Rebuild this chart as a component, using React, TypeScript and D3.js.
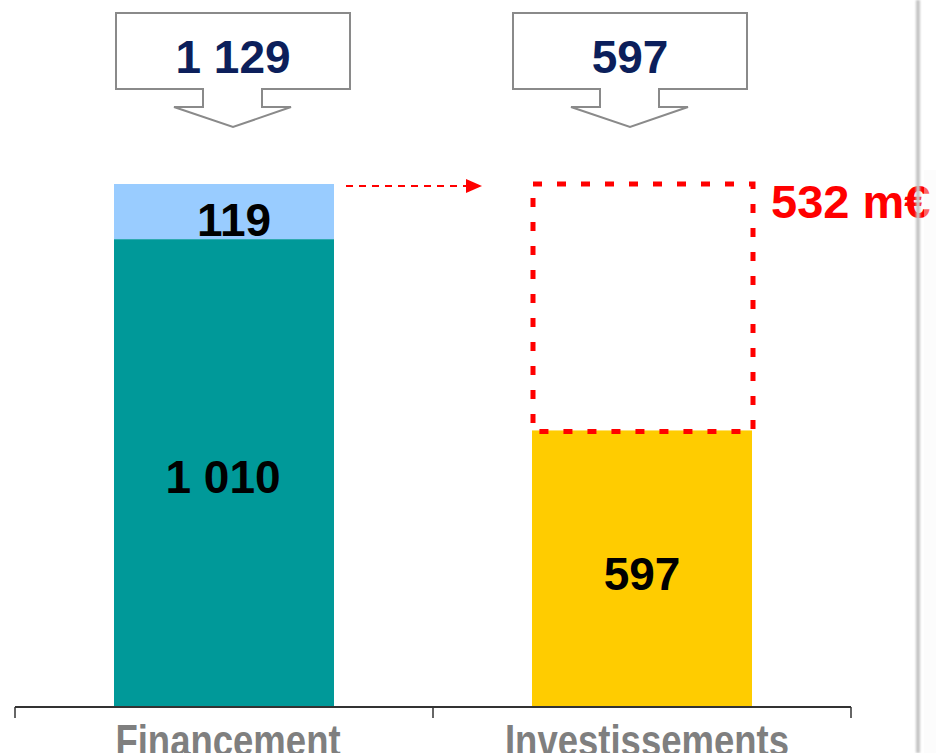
import React from "react";
import * as d3 from "d3";

const categories = ["Financement", "Investissements"];
const financementBase = 1010;
const financementExtra = 119;
const investissements = 597;
const totals = ["1 129", "597"];
const gapLabel = "532 m€";
const baseLabels = ["1 010", "597"];
const extraLabel = "119";

const W = 938;
const H = 753;

export default function App() {
  const x = d3
    .scaleBand<string>()
    .domain(categories)
    .range([15, 851])
    .paddingInner(198 / 418)
    .paddingOuter(99 / 418);
  const y = d3.scaleLinear().domain([0, financementBase + financementExtra]).range([707, 184]);
  const bw = x.bandwidth();
  const x0 = x(categories[0])!;
  const x1 = x(categories[1])!;
  const calloutOffsets = [9, -12];
  const numFont = "'Liberation Sans', Arial, Helvetica, sans-serif";

  const callout = (cx: number) =>
    [
      [cx - 117, 13],
      [cx + 117, 13],
      [cx + 117, 89],
      [cx + 29, 89],
      [cx + 29, 107],
      [cx + 58, 107],
      [cx, 127],
      [cx - 59, 107],
      [cx - 30, 107],
      [cx - 30, 89],
      [cx - 117, 89],
    ]
      .map((p, i) => (i ? "L" : "M") + p[0] + "," + p[1])
      .join("") + "Z";

  const ticks = [15, 15 + x.step(), 851];
  const arrowY = y(financementBase + financementExtra) + 2;

  return (
    <svg width={W} height={H} style={{ position: "absolute", left: 0, top: 0, display: "block" }}>
      <defs>
        <filter id="blur" x="-2" y="0" width="5" height="1">
          <feGaussianBlur stdDeviation="1.2" />
        </filter>
      </defs>
      <rect width={W} height={H} fill="#fff" />
      {/* Financement stacked bar */}
      <rect x={x0} y={y(financementBase)} width={bw} height={y(0) - y(financementBase)} fill="#009999" />
      <rect
        x={x0}
        y={y(financementBase + financementExtra)}
        width={bw}
        height={y(financementBase) - y(financementBase + financementExtra)}
        fill="#99ccff"
      />
      {/* Investissements bar */}
      <rect x={x1} y={y(investissements)} width={bw} height={y(0) - y(investissements)} fill="#ffcc00" />
      {/* gap dashed rect */}
      <rect
        x={x1 + 1}
        y={y(financementBase + financementExtra)}
        width={bw}
        height={y(investissements) - y(financementBase + financementExtra) + 1}
        fill="none"
        stroke="#ff0000"
        strokeWidth={5}
        strokeDasharray="9 15"
      />
      {/* red arrow */}
      <line x1={x0 + bw + 12} x2={x1 - 65} y1={arrowY} y2={arrowY} stroke="#ff0000" strokeWidth={2} strokeDasharray="7 6" />
      <path d={`M${x1 - 66},${arrowY - 7}L${x1 - 50},${arrowY}L${x1 - 66},${arrowY + 7}Z`} fill="#ff0000" />
      {/* bar labels */}
      <text x={x0 + bw / 2 + 10} y={236} textAnchor="middle" fontFamily={numFont} fontWeight="bold" fontSize={46} fill="#000">
        {extraLabel}
      </text>
      <text x={x0 + bw / 2 - 1} y={493} textAnchor="middle" fontFamily={numFont} fontWeight="bold" fontSize={46} fill="#000">
        {baseLabels[0]}
      </text>
      <text x={x1 + bw / 2} y={590} textAnchor="middle" fontFamily={numFont} fontWeight="bold" fontSize={46} fill="#000">
        {baseLabels[1]}
      </text>
      {/* callouts */}
      {categories.map((c, i) => {
        const cx = x(c)! + bw / 2 + calloutOffsets[i];
        return (
          <g key={c}>
            <path d={callout(cx)} fill="#fff" stroke="#8a8a8a" strokeWidth={2} />
            <text x={cx} y={73} textAnchor="middle" fontFamily={numFont} fontWeight="bold" fontSize={46} fill="#0c1f5b">
              {totals[i]}
            </text>
          </g>
        );
      })}
      {/* gap label */}
      <text x={771} y={218} fontFamily={numFont} fontWeight="bold" fontSize={47} fill="#ff0000">
        {gapLabel}
      </text>
      {/* axis */}
      <line x1={15} x2={851} y1={707} y2={707} stroke="#333" strokeWidth={2} />
      {ticks.map((t, i) => (
        <line key={i} x1={t} x2={t} y1={707} y2={718} stroke="#333" strokeWidth={1.5} />
      ))}
      {categories.map((c) => {
        const cx = x(c)! + bw / 2 + (c === categories[0] ? 4 : 5);
        return (
          <text
            key={c}
            transform={`translate(${cx},756) scale(0.83,1)`}
            textAnchor="middle"
            fontFamily={numFont}
            fontWeight="bold"
            fontSize={44}
            fill="#7f7f7f"
          >
            {c}
          </text>
        );
      })}
      {/* page edge shadow */}
      <rect x={924} y={170} width={12} height={583} fill="#f7f7f7" opacity={0.4} />
      <rect x={916} y={0} width={4} height={H} fill="#c4c4c4" filter="url(#blur)" />
    </svg>
  );
}
